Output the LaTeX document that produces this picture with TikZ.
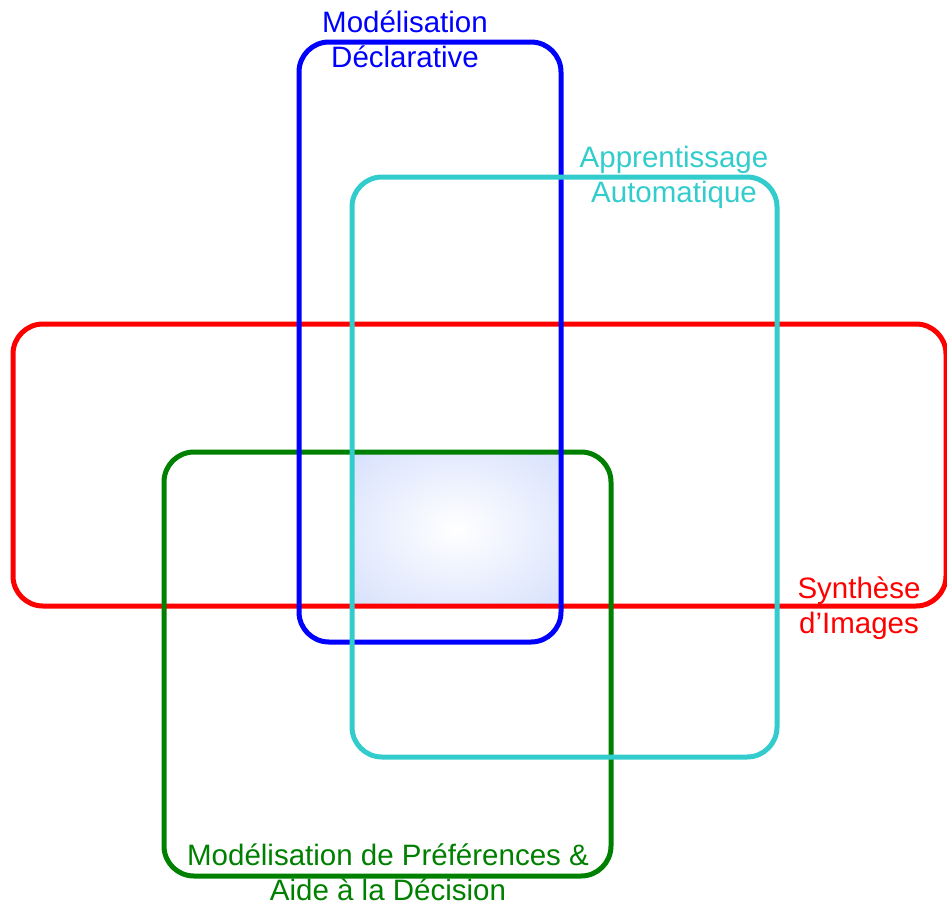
\documentclass[tikz,border=0pt]{standalone}
\usepackage{fontspec}
\setmainfont{Liberation Sans}
\definecolor{declblue}{RGB}{0,0,255}
\definecolor{learncyan}{RGB}{51,204,204}
\definecolor{synthred}{RGB}{255,0,0}
\definecolor{prefgreen}{RGB}{0,128,0}
\definecolor{glowblue}{RGB}{210,221,252}
\pgfdeclareradialshading{softglow}{\pgfpoint{0bp}{0bp}}{%
  color(0bp)=(white); color(40bp)=(glowblue); color(75bp)=(glowblue)}
\tikzset{
  field/.style={line width=5pt, rounded corners=30pt},
  fieldlabel/.style={font=\fontsize{29.5}{35}\selectfont, align=center, inner sep=0pt, anchor=base}
}
\begin{document}
\begin{tikzpicture}[x=1pt,y=-1pt]
  \useasboundingbox (0,0) rectangle (947,905);
  % common core where all four fields overlap
  \shade[shading=softglow] (352,452) rectangle (561,606);
  % the four fields, back to front
  \draw[field, synthred] (13,324) rectangle (946,606);
  \draw[field, prefgreen] (164,452) rectangle (611,876);
  \draw[field, declblue] (299,42) rectangle (561,642);
  \draw[field, learncyan] (352,177) rectangle (777,757);
  % field names (anchored on the baseline of their last line)
  \node[fieldlabel, text=declblue] (decl) at (405,67) {Modélisation\\Déclarative};
  \node[fieldlabel, text=learncyan] (learn) at (674,202) {Apprentissage\\Automatique};
  \node[fieldlabel, text=synthred] (synth) at (859,633) {Synthèse\\d’Images};
  \node[fieldlabel, text=prefgreen] (pref) at (388,900) {Modélisation de Préférences \&\\Aide à la Décision};
\end{tikzpicture}
\end{document}
